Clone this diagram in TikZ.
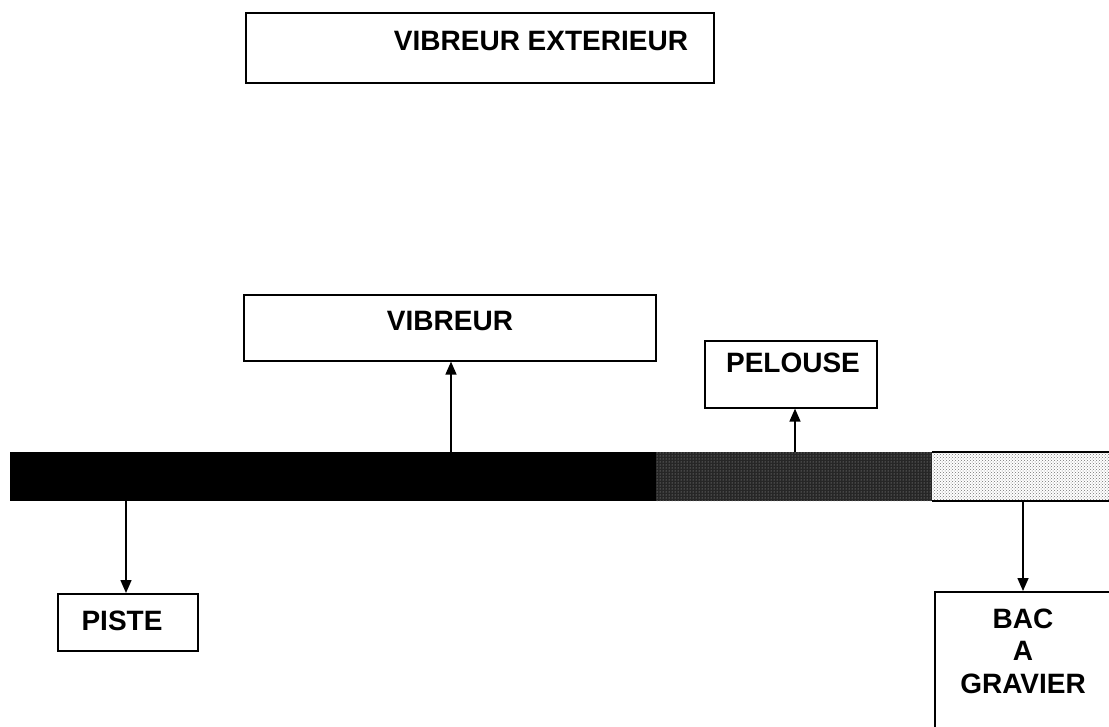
\documentclass[tikz,border=0pt]{standalone}
\usepackage{fontspec}
\setmainfont{Liberation Sans}
\usetikzlibrary{arrows.meta,patterns}
\begin{document}
\begin{tikzpicture}[x=1pt,y=-1pt,
  box/.style={draw=black,line width=1.6pt,fill=white,inner sep=0pt,anchor=north west},
  lab/.style={font=\bfseries\fontsize{28}{32.5}\selectfont,align=center,inner sep=0pt,anchor=base},
  conn/.style={line width=1.5pt,-{Triangle[length=13pt,width=11pt]}}]
\useasboundingbox (0,0) rectangle (1109,726);
% band
\fill[black] (10,452) rectangle (656,501);
\fill[black!85] (656,452) rectangle (932,501);
\fill[pattern=dots,pattern color=white!70!black] (656,452) rectangle (932,501);
\fill[white] (932,452) rectangle (1109,501);
\fill[pattern=crosshatch dots,pattern color=black!55] (932,452) rectangle (1109,501);
\draw[line width=1.6pt] (932,452) -- (1109,452) (932,501) -- (1109,501);
\node[inner sep=0pt,minimum width=1099pt,minimum height=49pt,anchor=north west] (band) at (10,452) {};
% boxes
\node[box,minimum width=468pt,minimum height=70pt] (ext) at (245,12) {};
\node[lab] at (541,50) {VIBREUR EXTERIEUR};
\node[box,minimum width=412pt,minimum height=66pt] (vib) at (243,294) {};
\node[lab] at (450,330) {VIBREUR};
\node[box,minimum width=172pt,minimum height=67pt] (pel) at (704,340) {};
\node[lab] at (793,372) {PELOUSE};
\node[box,minimum width=140pt,minimum height=57pt] (pis) at (57,593) {};
\node[lab] at (122,630) {PISTE};
\node[box,minimum width=190pt,minimum height=150pt] (bac) at (934,591) {};
\node[lab,anchor=center] at (1023,651) {BAC\\A\\GRAVIER};
% connectors
\coordinate (c1) at (451,452);
\coordinate (c2) at (795,452);
\coordinate (c3) at (126,501);
\coordinate (c4) at (1023,501);
\draw[conn] (c1) -- (c1 |- vib.south);
\draw[conn] (c2) -- (c2 |- pel.south);
\draw[conn] (c3) -- (c3 |- pis.north);
\draw[conn] (c4) -- (c4 |- bac.north);
\end{tikzpicture}
\end{document}
